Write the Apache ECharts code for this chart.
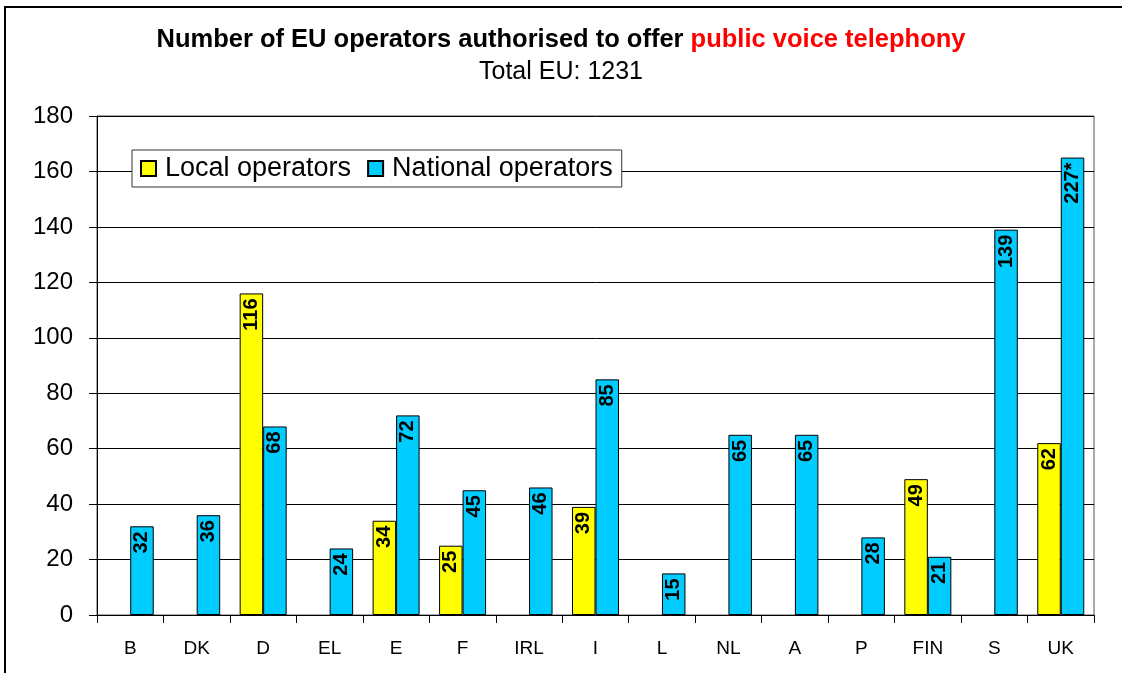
<!DOCTYPE html>
<html>
<head>
<meta charset="utf-8">
<script src="https://cdn.jsdelivr.net/npm/echarts@6/dist/echarts.min.js"></script>
<style>
  html, body { margin: 0; padding: 0; background: #fff; }
  #chart { width: 1122px; height: 673px; }
</style>
</head>
<body>
<div id="chart"></div>
<script>
// countries
const categories = ['B', 'DK', 'D', 'EL', 'E', 'F', 'IRL', 'I', 'L', 'NL', 'A', 'P', 'FIN', 'S', 'UK']
// local operators (null = no bar)
const localValues = [null, null, 116, null, 34, 25, null, 39, null, null, null, null, 49, null, 62]
// national operators, UK bar is drawn truncated at 165 with label 227*
const nationalValues = [32, 36, 68, 24, 72, 45, 46, 85, 15, 65, 65, 28, 21, 139, 165]
const nationalLabels = ['32', '36', '68', '24', '72', '45', '46', '85', '15', '65', '65', '28', '21', '139', '227*']
const yTicks = [0, 20, 40, 60, 80, 100, 120, 140, 160, 180]

const font = "'Liberation Sans', Arial, sans-serif"

const labelBase = {
  show: true,
  position: 'insideTop',
  rotate: 90,
  align: 'right',
  verticalAlign: 'middle',
  distance: 5,
  color: '#000',
  fontFamily: font,
  fontWeight: 'bold',
  fontSize: 20
}

const chart = echarts.init(document.getElementById('chart'), null, { renderer: 'canvas' })

chart.setOption({
  backgroundColor: '#fff',
  animation: false,
  title: {
    text: '{a|Number of EU operators authorised to offer }{b|public voice telephony}',
    subtext: 'Total EU: 1231',
    left: 'center',
    top: 22,
    itemGap: 7,
    textStyle: {
      rich: {
        a: { fontFamily: font, fontWeight: 'bold', fontSize: 25.5, color: '#000' },
        b: { fontFamily: font, fontWeight: 'bold', fontSize: 25.5, color: '#ff0000' }
      }
    },
    subtextStyle: { fontFamily: font, fontSize: 25, color: '#000' }
  },
  legend: {
    left: 132,
    top: 150,
    orient: 'horizontal',
    padding: [5, 9, 5, 8],
    itemGap: 16,
    itemWidth: 15,
    itemHeight: 15,
    icon: 'rect',
    backgroundColor: '#fff',
    borderColor: '#333',
    borderWidth: 1,
    textStyle: { fontFamily: font, fontSize: 27, color: '#000', padding: [0, 0, 0, 4] },
    data: ['Local operators', 'National operators']
  },
  graphic: [{
    type: 'rect',
    shape: { x: 5, y: 7, width: 1140, height: 700 },
    style: { fill: 'none', stroke: '#000', lineWidth: 2 },
    silent: true
  }],
  grid: {
    left: 97,
    right: 28,
    top: 116,
    bottom: 58,
    show: true,
    borderColor: '#555',
    borderWidth: 1
  },
  xAxis: {
    type: 'category',
    data: categories,
    axisLine: { lineStyle: { color: '#000', width: 1 } },
    axisTick: { show: true, inside: false, length: 8, lineStyle: { color: '#000' } },
    axisLabel: { color: '#000', fontFamily: font, fontSize: 19, margin: 24 }
  },
  yAxis: {
    type: 'value',
    min: yTicks[0],
    max: yTicks[yTicks.length - 1],
    interval: 20,
    axisLine: { show: true, lineStyle: { color: '#000', width: 1 } },
    axisTick: { show: true, inside: false, length: 8, lineStyle: { color: '#000' } },
    axisLabel: { color: '#000', fontFamily: font, fontSize: 24, margin: 24 },
    splitLine: { show: true, lineStyle: { color: '#000', width: 1 } }
  },
  series: [
    {
      name: 'Local operators',
      type: 'bar',
      data: localValues,
      barWidth: 23.5,
      barGap: '0%',
      itemStyle: { color: '#ffff00', borderColor: '#000', borderWidth: 1 },
      label: Object.assign({}, labelBase, {
        formatter: (p) => (p.value == null ? '' : String(p.value))
      })
    },
    {
      name: 'National operators',
      type: 'bar',
      data: nationalValues,
      barWidth: 23.5,
      barGap: '0%',
      itemStyle: { color: '#00ccff', borderColor: '#000', borderWidth: 1 },
      label: Object.assign({}, labelBase, {
        formatter: (p) => nationalLabels[p.dataIndex]
      })
    }
  ]
})
</script>
</body>
</html>
